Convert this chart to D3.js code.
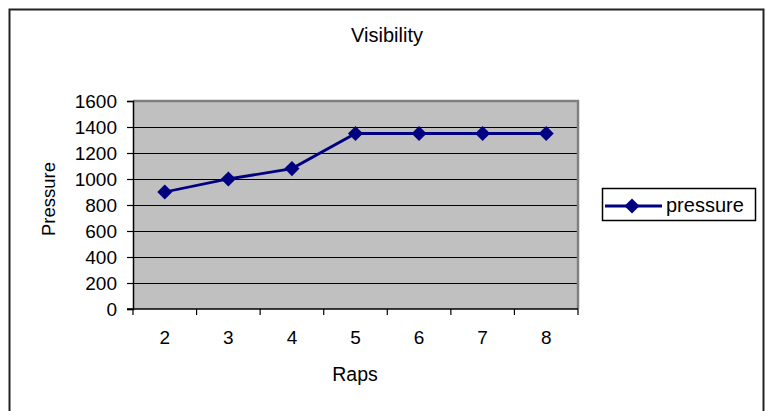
<!DOCTYPE html>
<html>
<head>
<meta charset="utf-8">
<script src="https://cdn.jsdelivr.net/npm/d3@7"></script>
<style>
  html, body { margin: 0; padding: 0; background: #fff; }
  svg { display: block; }
  text { font-family: "Liberation Sans", Arial, sans-serif; fill: #000; }
</style>
</head>
<body>
<svg id="chart" width="767" height="411"></svg>
<script>
// Chart data
const title = "Visibility";
const seriesName = "pressure";
const xTitle = "Raps";
const yTitle = "Pressure";
const categories = ["2", "3", "4", "5", "6", "7", "8"];
const pressure = [900, 1000, 1080, 1350, 1350, 1350, 1350];
const yTicks = [0, 200, 400, 600, 800, 1000, 1200, 1400, 1600];

const svg = d3.select("#chart");
const FONT = "'Liberation Sans', Arial, sans-serif";

// Outer chart frame
svg.append("rect")
  .attr("x", 9.5).attr("y", 9.5)
  .attr("width", 754).attr("height", 420)
  .attr("fill", "#fff")
  .attr("stroke", "#222").attr("stroke-width", 2);

const plot = { left: 133, right: 578, top: 101, bottom: 309 };

const x = d3.scaleBand()
  .domain(categories)
  .range([plot.left, plot.right])
  .paddingInner(0).paddingOuter(0);

const y = d3.scaleLinear()
  .domain([0, 1600])
  .range([plot.bottom, plot.top]);

// Plot area background
svg.append("rect")
  .attr("x", plot.left).attr("y", plot.top)
  .attr("width", plot.right - plot.left)
  .attr("height", plot.bottom - plot.top)
  .attr("fill", "#c0c0c0");

// Horizontal gridlines
svg.append("g")
  .selectAll("line")
  .data(yTicks.filter(d => d > 0 && d < 1600))
  .join("line")
  .attr("x1", plot.left).attr("x2", plot.right)
  .attr("y1", d => Math.round(y(d)) + 0.5)
  .attr("y2", d => Math.round(y(d)) + 0.5)
  .attr("stroke", "#000").attr("stroke-width", 1);

// Plot area border (top and right)
svg.append("path")
  .attr("d", `M${plot.left},${plot.top} H${plot.right} V${plot.bottom}`)
  .attr("fill", "none")
  .attr("stroke", "#808080").attr("stroke-width", 2.5);

// Y axis
const yAxis = svg.append("g")
  .attr("transform", `translate(${plot.left},0)`)
  .call(d3.axisLeft(y).tickValues(yTicks).tickFormat(d3.format("d"))
    .tickSize(6).tickPadding(10));
yAxis.select(".domain").attr("stroke", "#000").attr("stroke-width", 1.5);
yAxis.selectAll(".tick line").attr("stroke", "#000").attr("stroke-width", 1.2);
yAxis.selectAll(".tick text")
  .attr("font-size", 19)
  .attr("font-family", FONT)
  .attr("fill", "#000");

// X axis: labels centred in each category, ticks on category boundaries
const xAxis = svg.append("g")
  .attr("transform", `translate(0,${plot.bottom})`)
  .call(d3.axisBottom(x).tickSize(0).tickPadding(22));
xAxis.select(".domain").remove();
xAxis.selectAll(".tick text")
  .attr("font-size", 19)
  .attr("font-family", FONT)
  .attr("fill", "#000");

svg.append("line")
  .attr("x1", plot.left - 6).attr("x2", plot.right)
  .attr("y1", plot.bottom).attr("y2", plot.bottom)
  .attr("stroke", "#000").attr("stroke-width", 1.5);

const boundaries = categories.map(c => x(c)).concat([x.range()[1]]);
svg.append("g")
  .selectAll("line")
  .data(boundaries)
  .join("line")
  .attr("x1", d => d).attr("x2", d => d)
  .attr("y1", plot.bottom).attr("y2", plot.bottom + 6)
  .attr("stroke", "#000").attr("stroke-width", 1.2);

// Series line and diamond markers
const cx = c => x(c) + x.bandwidth() / 2;
const line = d3.line()
  .x((d, i) => cx(categories[i]))
  .y(d => y(d));

svg.append("path")
  .datum(pressure)
  .attr("d", line)
  .attr("fill", "none")
  .attr("stroke", "#000080")
  .attr("stroke-width", 2.8);

const diamond = d3.symbol().type(d3.symbolDiamond2).size(145);
svg.append("g")
  .selectAll("path")
  .data(pressure)
  .join("path")
  .attr("transform", (d, i) => `translate(${cx(categories[i])},${y(d)})`)
  .attr("d", diamond)
  .attr("fill", "#000080");

// Titles
svg.append("text")
  .attr("x", 387).attr("y", 42)
  .attr("text-anchor", "middle")
  .attr("font-size", 20)
  .text(title);

svg.append("text")
  .attr("x", 355).attr("y", 381)
  .attr("text-anchor", "middle")
  .attr("font-size", 19.5)
  .text(xTitle);

svg.append("text")
  .attr("transform", `translate(55,199) rotate(-90)`)
  .attr("text-anchor", "middle")
  .attr("font-size", 18.5)
  .text(yTitle);

// Legend
const legend = svg.append("g");
legend.append("rect")
  .attr("x", 602.5).attr("y", 188.5)
  .attr("width", 153).attr("height", 32)
  .attr("fill", "#fff")
  .attr("stroke", "#000").attr("stroke-width", 1.5);
legend.append("line")
  .attr("x1", 605).attr("x2", 662)
  .attr("y1", 206).attr("y2", 206)
  .attr("stroke", "#000080").attr("stroke-width", 2.8);
legend.append("path")
  .attr("transform", "translate(632,206)")
  .attr("d", diamond)
  .attr("fill", "#000080");
legend.append("text")
  .attr("x", 666).attr("y", 212)
  .attr("font-size", 20)
  .text(seriesName);
</script>
</body>
</html>
